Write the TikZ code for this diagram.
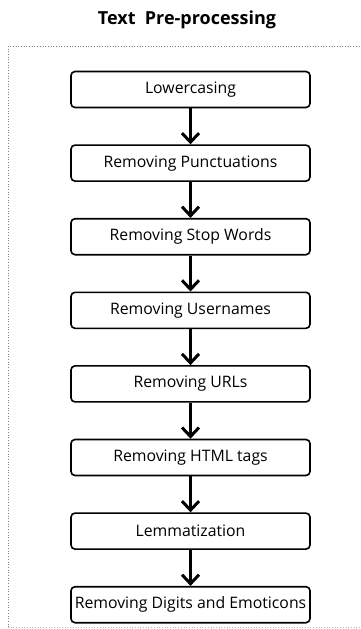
\documentclass[tikz,border=0pt]{standalone}
\usepackage{fontspec}
\setmainfont{Open Sans}
\usetikzlibrary{positioning, arrows.meta}

\tikzset{
  stepbox/.style={draw, line width=1.6pt, rounded corners=4pt,
    minimum width=239pt, minimum height=36pt, inner sep=0pt,
    font=\fontsize{15.8}{17}\selectfont},
  flow/.style={-{Straight Barb[length=9pt, width=17pt, line width=3pt]},
    line width=3pt}
}

\begin{document}
\begin{tikzpicture}[x=1pt, y=-1pt, node distance=36pt]
  % Canvas
  \useasboundingbox (0,0) rectangle (360,629);

  % Title and dotted frame
  \node[font=\fontsize{18}{20}\selectfont\bfseries] (title) at (187,20)
    {Text\ \ Pre-processing};
  \draw[gray, dotted, line width=0.7pt] (8,627) -- (8,46) -- (362,46);
  \draw[gray!60, dotted, line width=0.7pt] (8,627) -- (362,627);

  % Steps, top to bottom
  \node[stepbox] (lower) at (190.5,89.5) {Lowercasing};
  \node[stepbox, below=of lower] (punct) {Removing Punctuations};
  \node[stepbox, below=of punct] (stopw) {Removing Stop Words};
  \node[stepbox, below=of stopw] (users) {Removing Usernames};
  \node[stepbox, below=of users] (urls) {Removing URLs};
  \node[stepbox, below=of urls] (html) {Removing HTML tags};
  \node[stepbox, below=of html] (lemma) {Lemmatization};
  \node[stepbox, below=of lemma] (digits) {Removing Digits and Emoticons};

  % Arrows between steps
  \foreach \a/\b in {lower/punct, punct/stopw, stopw/users, users/urls,
                     urls/html, html/lemma, lemma/digits} {
    \draw[flow] (\a) -- (\b);
  }
\end{tikzpicture}
\end{document}
